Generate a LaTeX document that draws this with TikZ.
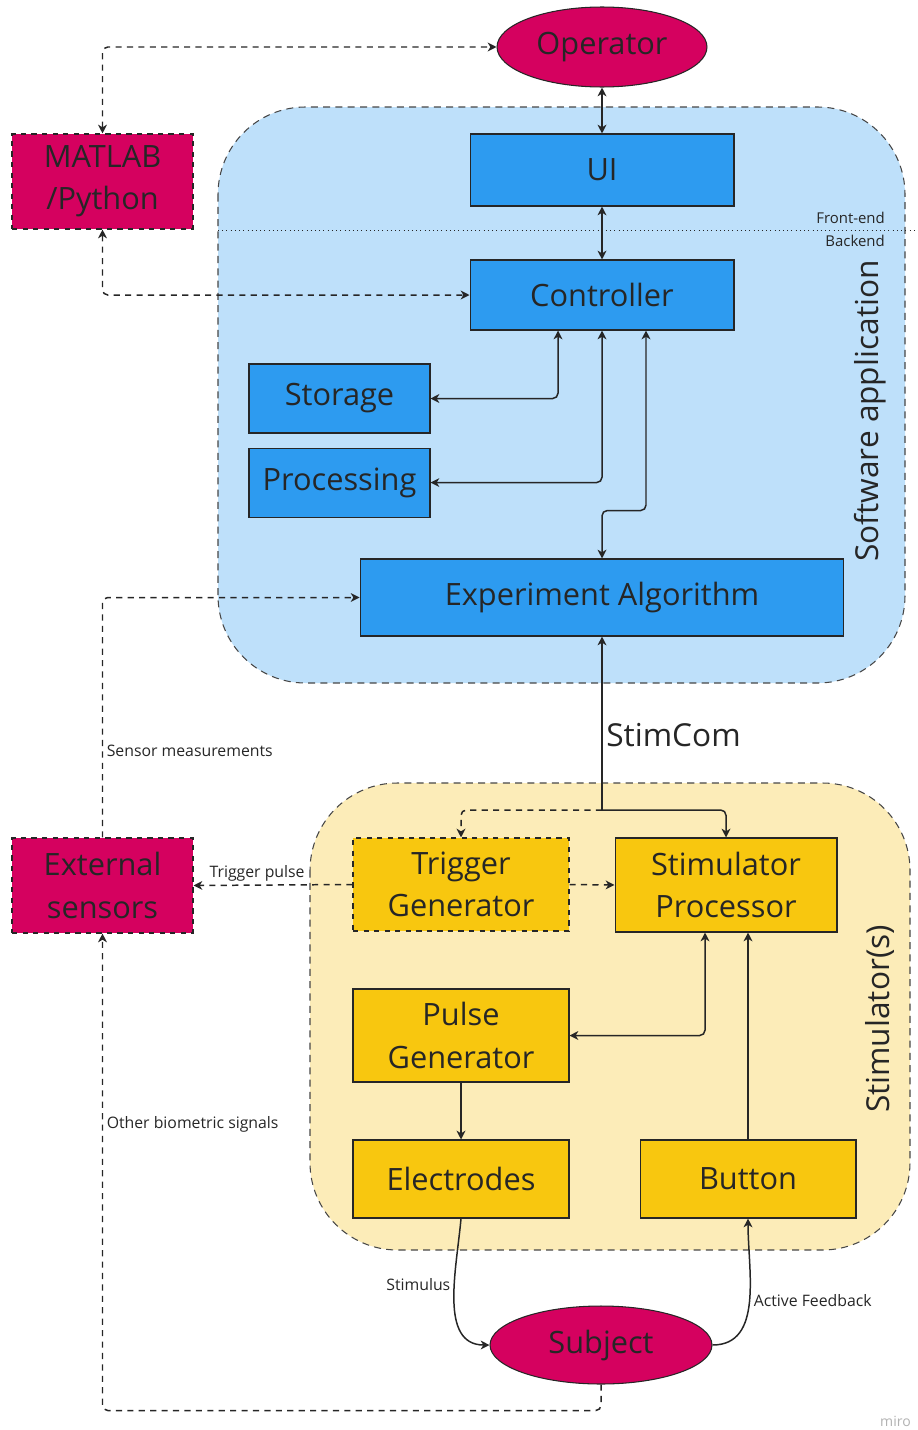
\documentclass[tikz,border=0pt]{standalone}
\usepackage{fontspec}
\setmainfont{Open Sans}
\definecolor{inkcolor}{HTML}{262626}
\definecolor{roseblock}{HTML}{D5015F}
\definecolor{appblock}{HTML}{2D9BF0}
\definecolor{appback}{HTML}{BEE0FA}
\definecolor{stimblock}{HTML}{F8C70F}
\definecolor{stimback}{HTML}{FCECB8}
\usetikzlibrary{arrows,arrows.meta,shapes,positioning}
\tikzset{
	block/.style={
		rectangle,
		draw=inkcolor,
		semithick,
		fill=appblock,
		text=inkcolor,
		font=\fontsize{17.5}{24}\selectfont,
		align=center,
		inner sep=0pt
	},
	stimbox/.style={
		block,
		fill=stimblock
	},
	outerbox/.style={
		block,
		fill=roseblock,
		dashed
	},
	actor/.style={
		ellipse,
		draw=inkcolor,
		semithick,
		fill=roseblock,
		text=inkcolor,
		font=\fontsize{17.5}{20}\selectfont,
		inner sep=0pt
	},
	region/.style={
		draw=inkcolor!85,
		semithick,
		dash pattern=on 4pt off 3pt,
		rounded corners=1.75cm
	},
	flow/.style={
		draw=inkcolor,
		line width=0.85pt,
		rounded corners=3pt,
		>={Stealth[length=5pt,width=5pt,inset=1.5pt]}
	},
	dflow/.style={
		flow,
		dash pattern=on 3.5pt off 3pt
	},
	tag/.style={
		font=\fontsize{9}{11}\selectfont,
		text=inkcolor,
		inner sep=2pt
	},
}

\begin{document}
\begin{tikzpicture}[x=0.02cm,y=-0.02cm]
	\useasboundingbox (0,0) rectangle (918,1430);

	% background areas
	\draw[region,fill=appback] (218,107) rectangle (905,683);
	\draw[region,fill=stimback] (310,783) rectangle (910,1250);
	\draw[dotted,inkcolor] (218,230) -- (918,230);
	\node[font=\fontsize{8.5}{10}\selectfont,text=inkcolor,anchor=east] (fe) at (891,218) {Front-end};
	\node[font=\fontsize{8.5}{10}\selectfont,text=inkcolor,anchor=east] (be) at (891,241) {Backend};
	\node[rotate=90,font=\fontsize{18}{20}\selectfont,text=inkcolor] (swlab) at (870,411) {Software application};
	\node[rotate=90,font=\fontsize{18}{20}\selectfont,text=inkcolor] (stlab) at (880,1019) {Stimulator(s)};

	% software side
	\node[actor,minimum width=4.2cm,minimum height=1.6cm] (op) at (602,47) {Operator};
	\node[outerbox,minimum width=3.62cm,minimum height=1.9cm] (matlab) at (102.5,181.5) {MATLAB\\/Python};
	\node[block,minimum width=5.28cm,minimum height=1.44cm] (ui) at (602,170) {UI};
	\node[block,minimum width=5.28cm,minimum height=1.4cm] (ctrl) at (602,295) {Controller};
	\node[block,minimum width=3.62cm,minimum height=1.38cm] (stor) at (339.5,398.5) {Storage};
	\node[block,minimum width=3.62cm,minimum height=1.38cm] (proc) [below=0.28cm of stor] {Processing};
	\node[block,minimum width=9.68cm,minimum height=1.54cm] (alg) at (602,597.5) {Experiment Algorithm};

	% stimulator side
	\node[stimbox,dashed,minimum width=4.32cm,minimum height=1.86cm] (trig) at (461,884.5) {Trigger\\Generator};
	\node[stimbox,minimum width=4.44cm,minimum height=1.88cm] (sproc) at (726,885) {Stimulator\\Processor};
	\node[outerbox,minimum width=3.62cm,minimum height=1.9cm] (ext) at (102.5,885.5) {External\\sensors};
	\node[stimbox,minimum width=4.32cm,minimum height=1.86cm] (pulse) at (461,1035.5) {Pulse\\Generator};
	\node[stimbox,minimum width=4.32cm,minimum height=1.56cm] (elec) at (461,1179) {Electrodes};
	\node[stimbox,minimum width=4.32cm,minimum height=1.56cm] (btn) at (748,1179) {Button};
	\node[actor,minimum width=4.44cm,minimum height=1.56cm] (subj) at (601,1345) {Subject};
	\coordinate (split) at (602,810);

	% connections
	\draw[dflow,<->] (matlab.north) |- (op.west);
	\draw[dflow,<->] (matlab.south) |- (ctrl.west);
	\draw[flow,<->] (op) -- (ui);
	\draw[flow,<->] (ui) -- (ctrl);
	\draw[flow,<->] ([xshift=-0.88cm]ctrl.south) |- (stor.east);
	\draw[flow,<->] (ctrl.south) |- (proc.east);
	\draw[flow,<->] ([xshift=0.88cm]ctrl.south) -- ++(0,180) -| (alg.north);
	\draw[dflow,->] (ext.north) |- node[tag,pos=0.18,right] {Sensor measurements} (alg.west);
	\draw[flow,->] (split) -- node[pos=0.43,right,inner sep=2pt,font=\fontsize{18}{20}\selectfont,text=inkcolor] {StimCom} (alg.south);
	\draw[flow,->] (split) -| (sproc.north);
	\draw[dflow,->] (split) -| (trig.north);
	\draw[dflow,->] (trig.east) -- (sproc.west);
	\draw[dflow,->] (trig.west) -- node[tag,pos=0.6,above] {Trigger pulse} (ext.east);
	\draw[flow,<->] ([xshift=-0.42cm]sproc.south) |- (pulse.east);
	\draw[flow,->] (btn.north) -- (btn.north |- sproc.south);
	\draw[flow,->] (pulse) -- (elec);
	\draw[flow,->] (elec.south) to[out=-95,in=180] node[tag,pos=0.4,left] {Stimulus} (subj.west);
	\draw[flow,->] (subj.east) to[out=0,in=-90] node[tag,pos=0.5,right] {Active Feedback} (btn.south);
	\draw[dflow,->] (subj.south) -- ++(0,26) -| node[tag,pos=0.8,right] {Other biometric signals} (ext.south);

	\node[font=\fontsize{8}{10}\selectfont,text=black!30,anchor=east] (mark) at (917,1421) {miro};
\end{tikzpicture}
\end{document}
